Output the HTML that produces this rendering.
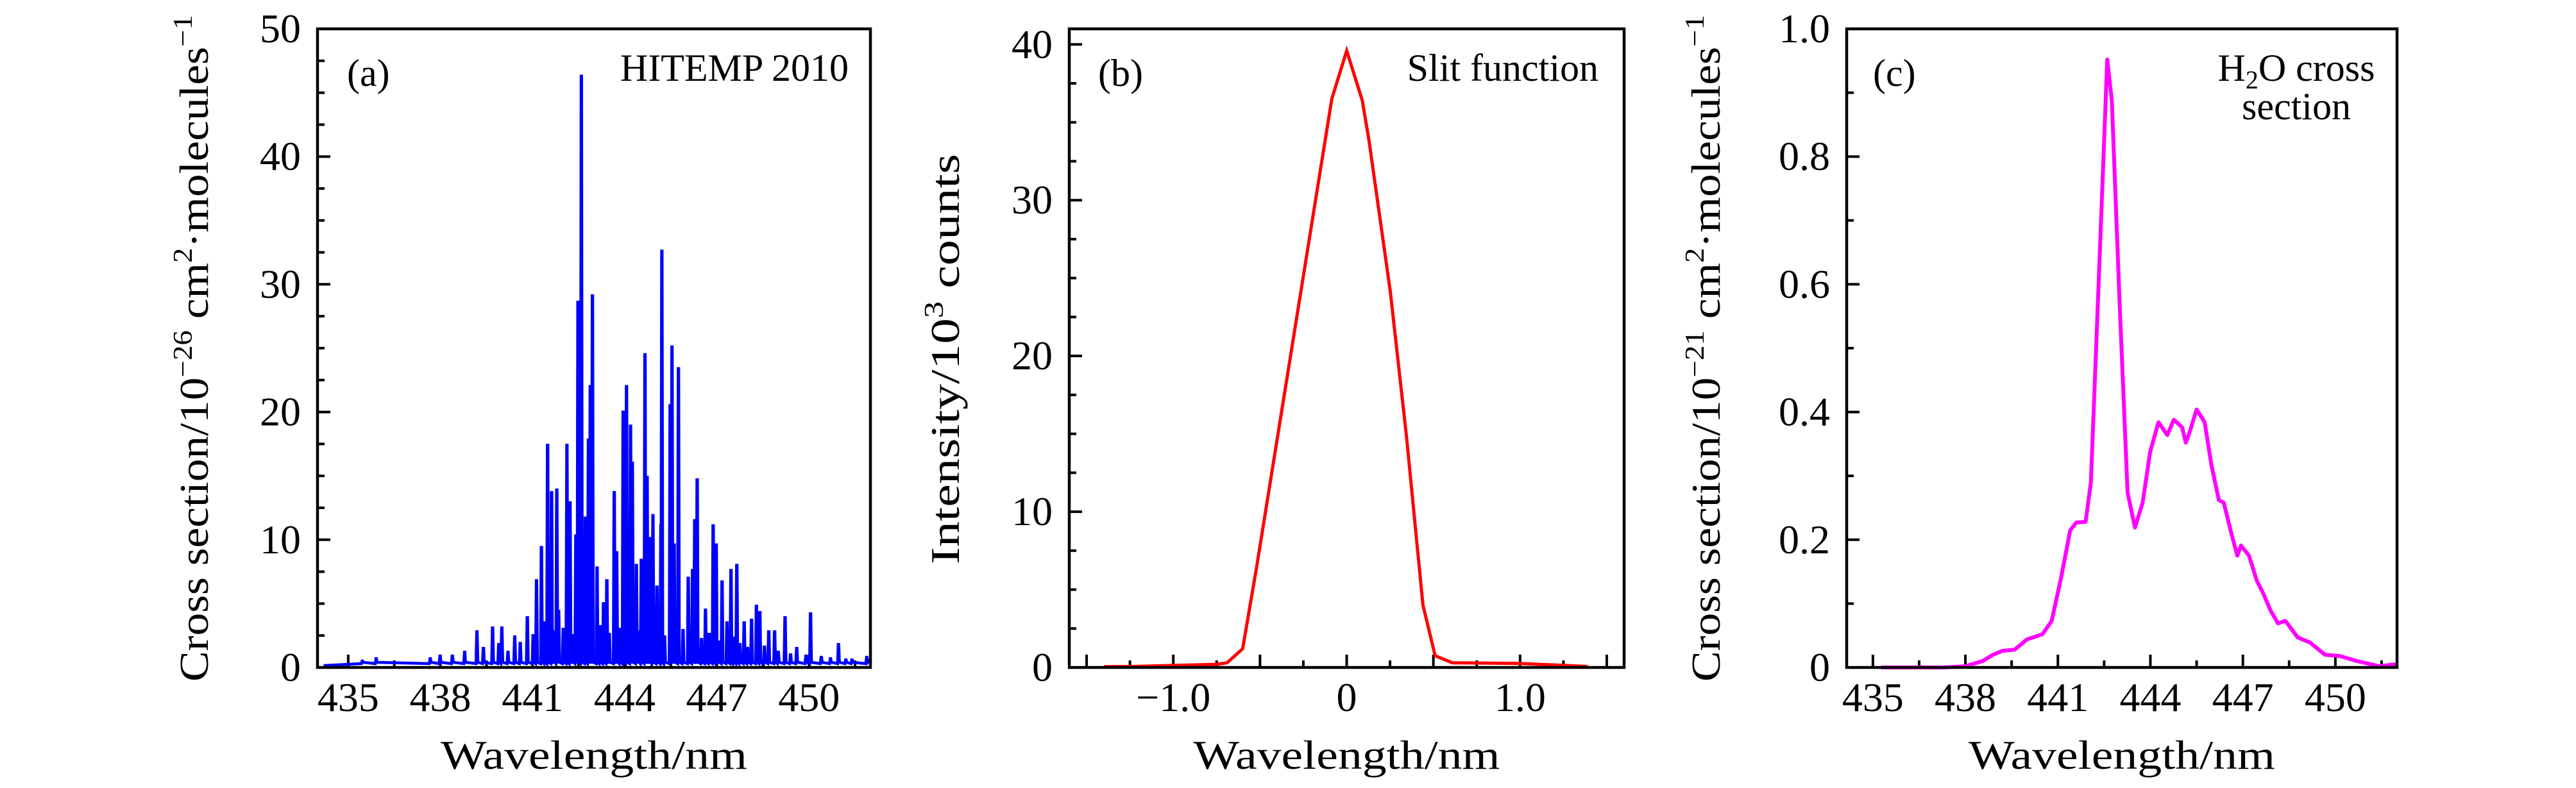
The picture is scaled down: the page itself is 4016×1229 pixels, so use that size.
<!DOCTYPE html>
<html><head><meta charset="utf-8">
<style>
html,body{margin:0;padding:0;background:#fff;}
svg{display:block;font-family:"Liberation Serif",serif;}
</style></head>
<body>
<svg id="fig" width="4016" height="1229" viewBox="0 0 4016 1229" xmlns="http://www.w3.org/2000/svg"></svg>
<script>
// ---- Panel (a): HITEMP 2010 stick spectrum ----
const aPeakNm = [435.46,435.91,437.67,437.99,438.39,438.79,439.19,439.70,440.0,440.42,440.83,441.02,441.13,441.29,441.49,441.62,441.79,441.85,442.12,442.22,442.41,442.48,442.59,442.72,442.82,442.88,442.95,443.10,443.31,443.42,443.66,443.74,443.95,444.06,444.19,444.25,444.38,444.54,444.66,444.73,444.81,444.92,445.05,445.18,445.21,445.48,445.54,445.61,445.75,446.07,446.21,446.28,446.36,446.63,446.88,446.98,447.17,447.33,447.46,447.65,447.89,448.13,448.29,448.40,448.69,448.88,449.22,449.60,450.05,450.96,451.40,451.88,
 439.4,439.9,440.2,440.6,441.4,441.7,442.0,442.3,443.2,443.5,443.85,444.45,444.9,445.3,445.9,446.5,446.75,447.05,447.55,447.75,448.0,448.55,449.0,449.4,449.9,450.4,450.7,451.2];
const aPeakVal = [0.5,0.7,0.7,0.9,0.9,1.2,2.8,3.1,3.1,2.4,3.9,2.5,6.8,9.4,17.4,13.7,13.9,4.4,17.4,12.9,10.3,28.6,46.3,11.7,17.8,22,29.1,7.8,5,6.8,13.7,9,20,22,18.9,16,8,8.4,24.5,14.9,10.1,11.9,6.3,11.1,32.6,20.5,25.1,9.6,23.4,7,7.6,11.5,14.7,4.5,11.1,9.6,6.7,3.5,7.6,8,3.5,3.7,4.8,4.3,2.8,2.8,3.9,1.5,4.2,1.8,0.6,0.8,
 1.5,1.8,1.2,1.9,3.5,2.8,3.0,2.5,3.2,2.6,3.0,2.8,3.3,2.4,2.9,2.2,2.6,2.0,2.3,1.8,1.5,1.6,1.2,1.0,0.9,0.8,0.7,0.6];
const aXTicks = [435,438,441,444,447,450];
const aYTicks = [0,10,20,30,40,50];

// ---- Panel (b): slit function ----
const bX = [-1.40,-1.24,-0.75,-0.69,-0.60,-0.52,-0.086,0,0.09,0.129,0.252,0.345,0.44,0.51,0.61,1.0,1.39];
const bY = [0.05,0.06,0.2,0.3,1.2,6.4,36.5,39.6,36.4,33.8,24.1,14.8,4.0,0.75,0.3,0.26,0.06];
const bXTicks = [-1.0,0,1.0];
const bXTickLabels = ["\u22121.0","0","1.0"];
const bYTicks = [0,10,20,30,40];

// ---- Panel (c): H2O cross section ----
const cX = [435.27,436.2,437.3,438.0,438.56,438.9,439.2,439.6,440.0,440.5,440.8,441.1,441.4,441.6,441.9,442.07,442.3,442.6,442.75,443.0,443.26,443.5,443.75,443.99,444.26,444.55,444.76,445.03,445.15,445.27,445.5,445.76,445.98,446.22,446.38,446.62,446.82,446.94,447.2,447.45,447.66,447.9,448.14,448.38,448.78,449.18,449.66,450.14,450.7,451.42,451.98];
const cY = [0,0,0,0.002,0.01,0.02,0.026,0.028,0.044,0.052,0.073,0.14,0.215,0.227,0.228,0.29,0.573,0.952,0.887,0.573,0.274,0.219,0.258,0.337,0.384,0.364,0.388,0.376,0.352,0.368,0.404,0.384,0.317,0.262,0.258,0.211,0.175,0.191,0.175,0.136,0.116,0.089,0.069,0.073,0.047,0.039,0.02,0.018,0.01,0.002,0.005];
const cXTicks = [435,438,441,444,447,450];
const cYTicks = [0,0.2,0.4,0.6,0.8,1.0];
const cYTickLabels = ["0","0.2","0.4","0.6","0.8","1.0"];

const NS="http://www.w3.org/2000/svg";
const svg=document.getElementById('fig');
function mk(tag,attrs,parent){const e=document.createElementNS(NS,tag);for(const k in attrs)e.setAttribute(k,attrs[k]);(parent||svg).appendChild(e);return e;}

const TOP=45, BOT=1041;
function panel(id,L,R,xmin,xmax,ymin,ymax,xMinorStep,xMajor,xLabels,yMinorStep,yMajor,yLabels){
  const g=mk('g',{});
  
  
  const sx=v=>L+(v-xmin)/(xmax-xmin)*(R-L);
  const sy=v=>BOT-(v-ymin)/(ymax-ymin)*(BOT-TOP);
  const x0=Math.ceil((xmin-1e-9)/xMinorStep)*xMinorStep;
  for(let v=x0; v<=xmax+1e-9; v+=xMinorStep){
    const isMaj=Math.abs(v/(xMinorStep*2)-Math.round(v/(xMinorStep*2)))<1e-6;
    const t=mk('line',{x1:sx(v),x2:sx(v),y1:BOT,y2:BOT-(isMaj?20:11),stroke:'#000','stroke-width':4},g);
    
    
  }
  const y0=Math.ceil((ymin-1e-9)/yMinorStep)*yMinorStep;
  for(let v=y0; v<=ymax+1e-9; v+=yMinorStep){
    const isMaj=yMajor.some(m=>Math.abs(m-v)<1e-6);
    const t=mk('line',{x1:L,x2:L+(isMaj?20:11),y1:sy(v),y2:sy(v),stroke:'#000','stroke-width':4},g);
    
    
  }
  xMajor.forEach((v,i)=>{
    const t=mk('text',{x:sx(v),y:1109,'font-size':64,'text-anchor':'middle'},g);
    t.textContent=xLabels[i];
    
    
  });
  yMajor.forEach((v,i)=>{
    const t=mk('text',{x:L-26,y:sy(v)+21,'font-size':64,'text-anchor':'end'},g);
    t.textContent=yLabels[i];
    
    
  });
  const xt=mk('text',{x:(L+R)/2,y:1199,'font-size':64,'text-anchor':'middle',textLength:478,lengthAdjust:'spacingAndGlyphs'},g);
  xt.textContent='Wavelength/nm';
  
  
  return {g,sx,sy};
}
function frame(g,L,R){
  const f=mk('rect',{x:L,y:TOP,width:R-L,height:BOT-TOP,fill:'none',stroke:'#000','stroke-width':4.5},g);
  
  
}
function ytitle(g,cx,cy,parts,len){
  const t=mk('text',{transform:`translate(${cx},${cy}) rotate(-90)`,'text-anchor':'middle','font-size':64,textLength:len,lengthAdjust:'spacingAndGlyphs'},g);
  parts.forEach(p=>{
    const s=mk('tspan',{},t);
    if(p[1]){s.setAttribute('font-size',42);s.setAttribute('dy',-25);}
    else if(p[2]){s.setAttribute('dy',25);}
    s.textContent=p[0];
  });
  
  
}
function annot(g,x,y,txt,anchor,name){
  const t=mk('text',{x:x,y:y,'font-size':60,'text-anchor':anchor},g);
  t.textContent=txt;
  
  
  return t;
}

// Panel A
(function(){
  const L=495,R=1357;
  const p=panel('a',L,R,434,452,0,50,1.5,aXTicks,aXTicks.map(String),2.5,aYTicks,aYTicks.map(String));
  const idx=aPeakNm.map((v,i)=>i).sort((i,j)=>aPeakNm[i]-aPeakNm[j]);
  let pts=[[434.2,0.15]];
  idx.forEach(i=>{const x=aPeakNm[i],h=aPeakVal[i];pts.push([x-0.03,0.3],[x-0.008,h],[x+0.008,h],[x+0.03,0.4]);});
  pts.push([451.98,0.6]);
  const d=pts.map((q,k)=>(k?'L':'M')+p.sx(q[0]).toFixed(1)+' '+p.sy(q[1]).toFixed(1)).join(' ');
  const path=mk('path',{d:d,fill:'none',stroke:'#0000ff','stroke-width':4.5,'stroke-linejoin':'miter'},p.g);
  
  
  frame(p.g,L,R);
  ytitle(p.g,324,543,[['Cross section/10'],['\u221226',1],[' cm',0,1],['2',1],['\u00b7molecules',0,1],['\u22121',1]],1040);
  annot(p.g,541,134,'(a)','start','panel-label-a');
  annot(p.g,1323,126,'HITEMP 2010','end','annotation-hitemp');
})();

// Panel B
(function(){
  const L=1667,R=2532;
  const p=panel('b',L,R,-1.6,1.6,0,41,0.25,bXTicks,bXTickLabels,2.5,bYTicks,bYTicks.map(String));
  const d=bX.map((x,k)=>(k?'L':'M')+p.sx(x).toFixed(1)+' '+p.sy(bY[k]).toFixed(1)).join(' ');
  const path=mk('path',{d:d,fill:'none',stroke:'#ff0000','stroke-width':5},p.g);
  
  
  frame(p.g,L,R);
  ytitle(p.g,1495,560,[['Intensity/10'],['3',1],[' counts',0,1]],640);
  annot(p.g,1712,134,'(b)','start','panel-label-b');
  annot(p.g,2492,126,'Slit function','end','annotation-slit');
})();

// Panel C
(function(){
  const L=2879,R=3737;
  const p=panel('c',L,R,434.15,452,0,1.0,1.5,cXTicks,cXTicks.map(String),0.1,cYTicks,cYTickLabels);
  const d=cX.map((x,k)=>(k?'L':'M')+p.sx(x).toFixed(1)+' '+p.sy(cY[k]).toFixed(1)).join(' ');
  const path=mk('path',{d:d,fill:'none',stroke:'#ff00ff','stroke-width':6,'stroke-linejoin':'round'},p.g);
  
  
  frame(p.g,L,R);
  ytitle(p.g,2681,543,[['Cross section/10'],['\u221221',1],[' cm',0,1],['2',1],['\u00b7molecules',0,1],['\u22121',1]],1040);
  annot(p.g,2920,134,'(c)','start','panel-label-c');
  const t=mk('text',{x:3580,y:126,'font-size':60,'text-anchor':'middle'},p.g);
  
  
  const s1=mk('tspan',{},t);s1.textContent='H';
  const s2=mk('tspan',{'font-size':40,dy:12},t);s2.textContent='2';
  const s3=mk('tspan',{dy:-12},t);s3.textContent='O cross';
  const t2=mk('text',{x:3580,y:186,'font-size':60,'text-anchor':'middle'},p.g);
  t2.textContent='section';
  
  
})();
</script>
</body></html>
